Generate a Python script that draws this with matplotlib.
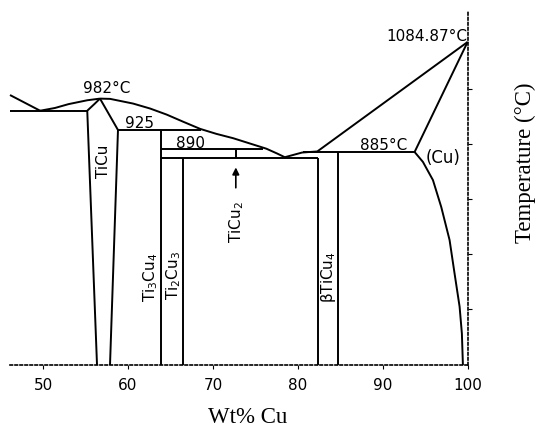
import numpy as np
import matplotlib.pyplot as plt

# phase boundaries (wt% Cu, deg C)
liq_left_x = [46.1, 49.65]
liq_left_t = [988.5, 960]
liq_ticu_x = [49.65, 51.4, 53.0, 55.2, 56.7]
liq_ticu_t = [960, 965, 972, 979, 982]
liq_mid_x = [56.7, 57.9, 60.6, 62.6, 64.55, 66.5, 68.5, 70.4, 72.4,
             74.35, 76.3, 77.6, 78.47]
liq_mid_t = [982, 981.5, 973, 964, 953, 940, 927, 918, 910,
             900.5, 891, 882, 875.5]
liq_cu_x = [78.47, 80.5, 82.3, 100.0]
liq_cu_t = [875.5, 884, 886, 1084.87]

ticu_left_x = [56.7, 56.1, 55.2, 56.35]
ticu_left_t = [982, 973, 960, 498]
ticu_right_x = [56.7, 58.82, 57.88]
ticu_right_t = [982, 925, 498]

solidus_cu_x = [93.76, 100.0]
solidus_cu_t = [885, 1084.87]
solvus_cu_x = [93.76, 94.74, 95.92, 96.9, 97.88, 98.47, 99.06, 99.33, 99.45]
solvus_cu_t = [885, 867, 834, 785, 725, 664, 604, 555, 498]

# isotherms: (x start, x end, T)
isotherms = [
    (46.1, 55.2, 960),
    (58.82, 68.6, 925),
    (63.88, 75.9, 890),
    (63.88, 82.35, 875),
    (80.6, 93.76, 885),
]
# line compounds: (x, T top, T bottom)
compounds = [
    (63.88, 925, 498),   # Ti3Cu4
    (66.47, 875, 498),   # Ti2Cu3
    (72.7, 890, 875),    # TiCu2
    (82.35, 875, 498),   # bTiCu4 left
    (84.7, 885, 498),    # bTiCu4 right
]

x_ticks = [50, 60, 70, 80, 90, 100]
t_ticks = [600, 700, 800, 900, 1000]

fig = plt.figure(figsize=(5.4, 4.3), dpi=100)
ax = fig.add_axes([10/540, 1-365/430, 458/540, 355/430])

lw = 1.4
kw = dict(color='black', lw=lw, solid_capstyle='butt', solid_joinstyle='round',
          clip_on=False)
for xs, ts in [(liq_left_x, liq_left_t), (liq_ticu_x, liq_ticu_t),
               (liq_mid_x, liq_mid_t), (liq_cu_x, liq_cu_t),
               (ticu_left_x, ticu_left_t), (ticu_right_x, ticu_right_t),
               (solidus_cu_x, solidus_cu_t), (solvus_cu_x, solvus_cu_t)]:
    ax.plot(xs, ts, **kw)
for x0, x1, t in isotherms:
    ax.plot([x0, x1], [t, t], **kw)
for x, t0, t1 in compounds:
    ax.plot([x, x], [t0, t1], **kw)

ax.annotate('', xy=(72.7, 862), xytext=(72.7, 815),
            arrowprops=dict(arrowstyle='-|>', color='black', lw=1.2,
                            mutation_scale=10))

tf = dict(fontsize=11, family='DejaVu Sans', ha='center', va='center')
ax.text(57.5, 1001, '982°C', **tf)
ax.text(61.4, 936, '925', **tf)
ax.text(67.4, 901, '890', **tf)
ax.text(90.1, 896, '885°C', **tf)
ax.text(100.0, 1094, '1084.87°C', fontsize=11, family='DejaVu Sans',
        ha='right', va='center')
ax.text(97.1, 874, '(Cu)', fontsize=12, family='DejaVu Sans',
        ha='center', va='center')
rf = dict(tf, rotation=90)
ax.text(57.1, 868, 'TiCu', **rf)
ax.text(72.8, 757, 'TiCu$_2$', **rf)
ax.text(62.7, 657, 'Ti$_3$Cu$_4$', **rf)
ax.text(65.4, 661, 'Ti$_2$Cu$_3$', **rf)
ax.text(83.6, 657, 'βTiCu$_4$', **rf)

ax.set_xlim(46.1, 100.05)
ax.set_ylim(498, 1143)
for s in ['left', 'top']:
    ax.spines[s].set_visible(False)
for s in ['bottom', 'right']:
    ax.spines[s].set_linestyle((0, (1.5, 1.5)))
    ax.spines[s].set_linewidth(1.2)

ax.yaxis.tick_right()
ax.set_yticks(t_ticks)
ax.set_yticklabels([])
ax.set_xticks(x_ticks)
ax.tick_params(axis='both', direction='out', length=3, width=0.8)
ax.tick_params(axis='x', pad=6, labelsize=11)
for lab in ax.get_xticklabels():
    lab.set_family('DejaVu Sans')

fig.text(248/540, 1-423/430, 'Wt% Cu', family='Liberation Serif', fontsize=16.5,
         ha='center', va='baseline')
fig.text(525/540, 1-163/430, 'Temperature (°C)', family='Liberation Serif',
         fontsize=16.5, rotation=90, ha='center', va='center')

fig.savefig('out.png', dpi=100)
